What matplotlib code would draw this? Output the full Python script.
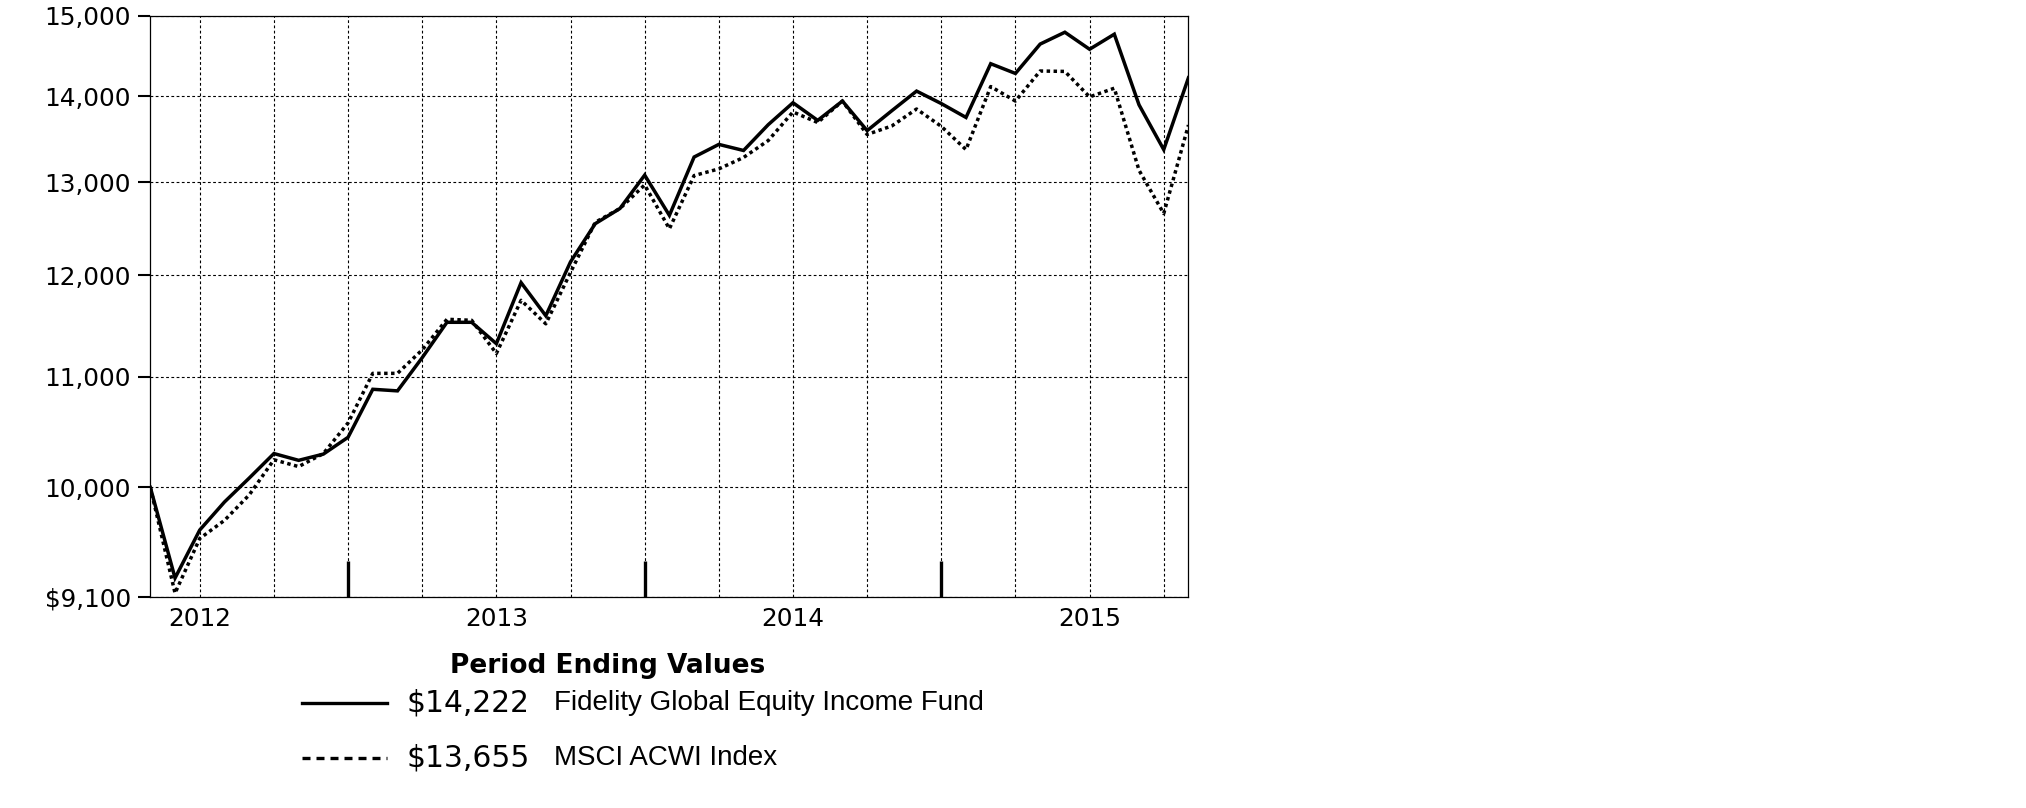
"""Growth of a hypothetical $10,000 investment: fund vs. MSCI ACWI, Apr 2012 - Oct 2015."""
import numpy as np
import pandas as pd
import matplotlib
matplotlib.use("Agg")
import matplotlib.pyplot as plt
from matplotlib.lines import Line2D
from matplotlib.ticker import NullLocator

# monthly period-end values, Apr 2012 .. Oct 2015
months = pd.date_range("2012-04-30", periods=43, freq="ME")
fund = [10000, 9250, 9640, 9875, 10080, 10295, 10235, 10290, 10440,
        10880, 10865, 11180, 11525, 11525, 11315, 11925, 11590, 12140, 12545, 12710, 13080,
        12635, 13285, 13430, 13360, 13660, 13920, 13710, 13940, 13590, 13825, 14060, 13910,
        13745, 14395, 14275, 14640, 14790, 14575, 14765, 13895, 13370, 14222]
index = [10000, 9130, 9570, 9720, 9935, 10240, 10180, 10295, 10570,
         11030, 11030, 11255, 11555, 11545, 11220, 11745, 11510, 12030, 12560, 12710, 12970,
         12490, 13075, 13150, 13280, 13475, 13810, 13685, 13940, 13545, 13645, 13845, 13640,
         13370, 14115, 13940, 14305, 14300, 13990, 14095, 13135, 12655, 13655]

y_ticks = [9100, 10000, 11000, 12000, 13000, 14000, 15000]
y_labels = ["$9,100", "10,000", "11,000", "12,000", "13,000", "14,000", "15,000"]

legend_names = ["Fidelity Global Equity Income Fund", "MSCI ACWI Index"]
legend_values = ["$14,222", "$13,655"]

DOT = (0, (1.0, 1.0))


def main():
    plt.rcParams["font.family"] = "DejaVu Sans"
    fig = plt.figure(figsize=(20.26, 8.08), dpi=100)
    ax = fig.add_axes([0.0742, 0.2611, 0.5124, 0.7193])

    x = np.arange(len(months))
    ax.plot(x, index, color="black", lw=2.5, ls=DOT, zorder=3)
    ax.plot(x, fund, color="black", lw=2.5, solid_joinstyle="miter", zorder=4)

    ax.set_yscale("log")
    ax.set_ylim(9100, 15000)
    ax.set_xlim(0, len(months) - 1)
    ax.set_yticks(y_ticks)
    ax.set_yticklabels(y_labels)
    ax.yaxis.set_minor_locator(NullLocator())

    # quarter ends carry the grid, June carries the year label, December gets a heavy tick
    quarters = [i for i, m in enumerate(months) if m.month % 3 == 0]
    year_ends = [i for i, m in enumerate(months) if m.month == 12]
    ax.set_xticks(quarters)
    ax.set_xticklabels([str(months[i].year) if months[i].month == 6 else "" for i in quarters])
    ax.set_xticks(year_ends, minor=True)
    ax.xaxis.remove_overlapping_locs = False

    ax.tick_params(axis="y", which="major", length=9, width=1.5, pad=5, labelsize=17.8)
    ax.tick_params(axis="x", which="major", length=0, pad=7, labelsize=17.8)
    ax.tick_params(axis="x", which="minor", direction="in", length=26, width=2.4)

    grid_kw = dict(color="black", lw=0.8, ls=(0, (2.5, 2.2)))
    ax.grid(axis="x", which="major", **grid_kw)
    ax.grid(axis="y", which="major", **grid_kw)
    for s in ax.spines.values():
        s.set_linewidth(0.9)

    # "Period Ending Values" legend block
    fig.text(0.300, 0.167, "Period Ending Values", ha="center", va="baseline",
             fontsize=19, fontweight="semibold")
    rows_y = [0.130, 0.0619]
    styles = ["-", (0, (2.4, 1.8))]
    for y, st, val, name in zip(rows_y, styles, legend_values, legend_names):
        fig.add_artist(Line2D([0.1489, 0.1909], [y, y], transform=fig.transFigure,
                              color="black", lw=2.4, ls=st))
        fig.text(0.2004, y, val, ha="left", va="center", fontsize=21.4)
        fig.text(0.2734, y, name, ha="left", va="center", fontsize=20,
                 family="Liberation Sans")

    fig.savefig("out.png", dpi=100)


if __name__ == "__main__":
    main()
